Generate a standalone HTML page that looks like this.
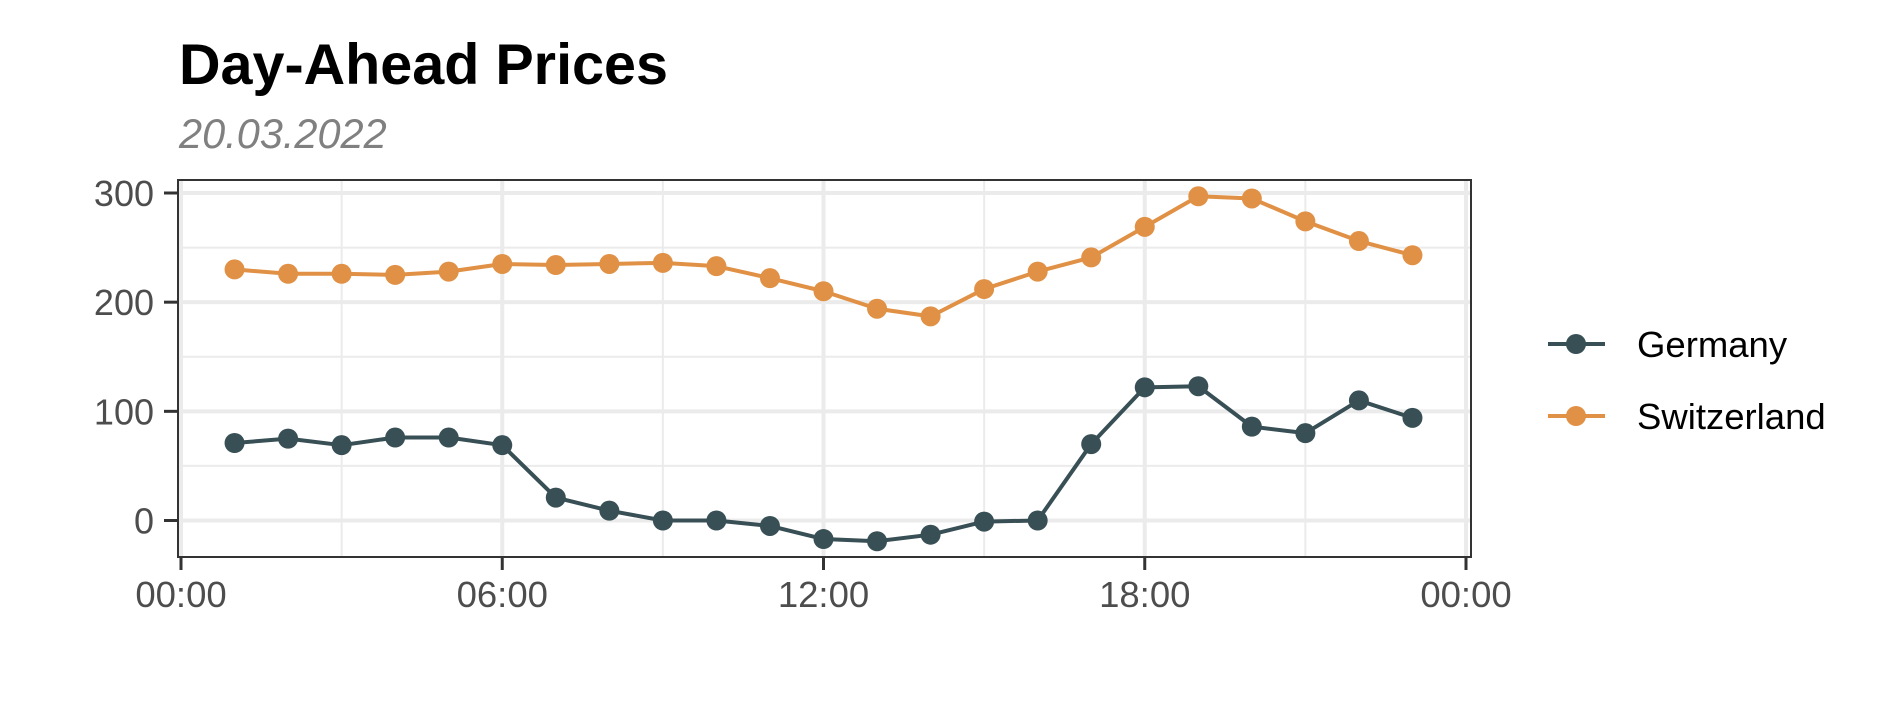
<!DOCTYPE html>
<html><head><meta charset="utf-8">
<style>
html,body{margin:0;padding:0;background:#fff;}
svg{display:block;font-family:"Liberation Sans",Arial,sans-serif;}
</style></head>
<body>
<svg id="chart" width="1889" height="708" viewBox="0 0 1889 708">
<text x="179" y="84" font-size="57.5" font-weight="bold" fill="#000">Day-Ahead Prices</text>
<text x="179" y="148" font-size="41.5" font-style="italic" fill="#808080">20.03.2022</text>
<g id="grid"></g>
<g id="series"></g>
<rect x="178" y="180" width="1293" height="377" fill="none" stroke="#333" stroke-width="2"/>
<g id="axes"></g>
<g>
  <g>
    <line x1="1548" y1="344" x2="1605" y2="344" stroke="#374f55" stroke-width="4"/>
    <circle cx="1576" cy="344" r="10" fill="#374f55"/>
    <text x="1637" y="357" font-size="36.5" fill="#000">Germany</text>
  </g>
  <g>
    <line x1="1548" y1="416" x2="1605" y2="416" stroke="#e09145" stroke-width="4"/>
    <circle cx="1576" cy="416" r="10" fill="#e09145"/>
    <text x="1637" y="429" font-size="36.5" fill="#000">Switzerland</text>
  </g>
</g>
</svg>
<script>
const hours = [1,2,3,4,5,6,7,8,9,10,11,12,13,14,15,16,17,18,19,20,21,22,23];
const germany = [71,75,69,76,76,69,21,9,0,0,-5,-17,-19,-13,-1,0,70,122,123,86,80,110,94];
const switzerland = [230,226,226,225,228,235,234,235,236,233,222,210,194,187,212,228,241,269,297,295,274,256,243];
const yTicks = [0,100,200,300];
const yMinor = [50,150,250];
const xTicks = [0,6,12,18,24];
const xTickLabels = ["00:00","06:00","12:00","18:00","00:00"];
const xMinor = [3,9,15,21];

const NS = "http://www.w3.org/2000/svg";
function xs(h){ return 181 + h*(1466-181)/24; }
function ys(v){ return 520.5 - v*(520.5-193)/300; }
function mk(tag, attrs, parent){
  const e = document.createElementNS(NS, tag);
  for (const k in attrs) e.setAttribute(k, attrs[k]);
  parent.appendChild(e);
  return e;
}
const grid = document.getElementById('grid');
const axes = document.getElementById('axes');
const series = document.getElementById('series');

yMinor.forEach(v=>{
  const l = mk('line',{x1:179,x2:1470,y1:ys(v),y2:ys(v),stroke:'#ebebeb','stroke-width':2},grid);
  
  
});
xMinor.forEach(h=>{
  const l = mk('line',{x1:xs(h),x2:xs(h),y1:181,y2:556,stroke:'#ebebeb','stroke-width':2},grid);
  
  
});
yTicks.forEach(v=>{
  const l = mk('line',{x1:179,x2:1470,y1:ys(v),y2:ys(v),stroke:'#ebebeb','stroke-width':4},grid);
  
  
  const t = mk('line',{x1:164,x2:178,y1:ys(v),y2:ys(v),stroke:'#333','stroke-width':3},axes);
  
  
  const tx = mk('text',{x:154,y:ys(v)+13,'text-anchor':'end','font-size':36,fill:'#4d4d4d'},axes);
  tx.textContent = String(v);
  
  
});
xTicks.forEach((h,i)=>{
  const l = mk('line',{x1:xs(h),x2:xs(h),y1:181,y2:556,stroke:'#ebebeb','stroke-width':4},grid);
  
  
  const t = mk('line',{x1:xs(h),x2:xs(h),y1:557,y2:570,stroke:'#333','stroke-width':3},axes);
  
  
  const tx = mk('text',{x:xs(h),y:607,'text-anchor':'middle','font-size':36.5,fill:'#4d4d4d'},axes);
  tx.textContent = xTickLabels[i];
  
  
});
function drawSeries(vals, color, name){
  const pts = hours.map((h,i)=>xs(h)+','+ys(vals[i])).join(' ');
  const pl = mk('polyline',{points:pts,fill:'none',stroke:color,'stroke-width':4,'stroke-linejoin':'round'},series);
  
  
  hours.forEach((h,i)=>{
    const c = mk('circle',{cx:xs(h),cy:ys(vals[i]),r:10,fill:color},series);
    
    
  });
}
drawSeries(switzerland,'#e09145','switzerland');
drawSeries(germany,'#374f55','germany');
</script>
</body></html>
